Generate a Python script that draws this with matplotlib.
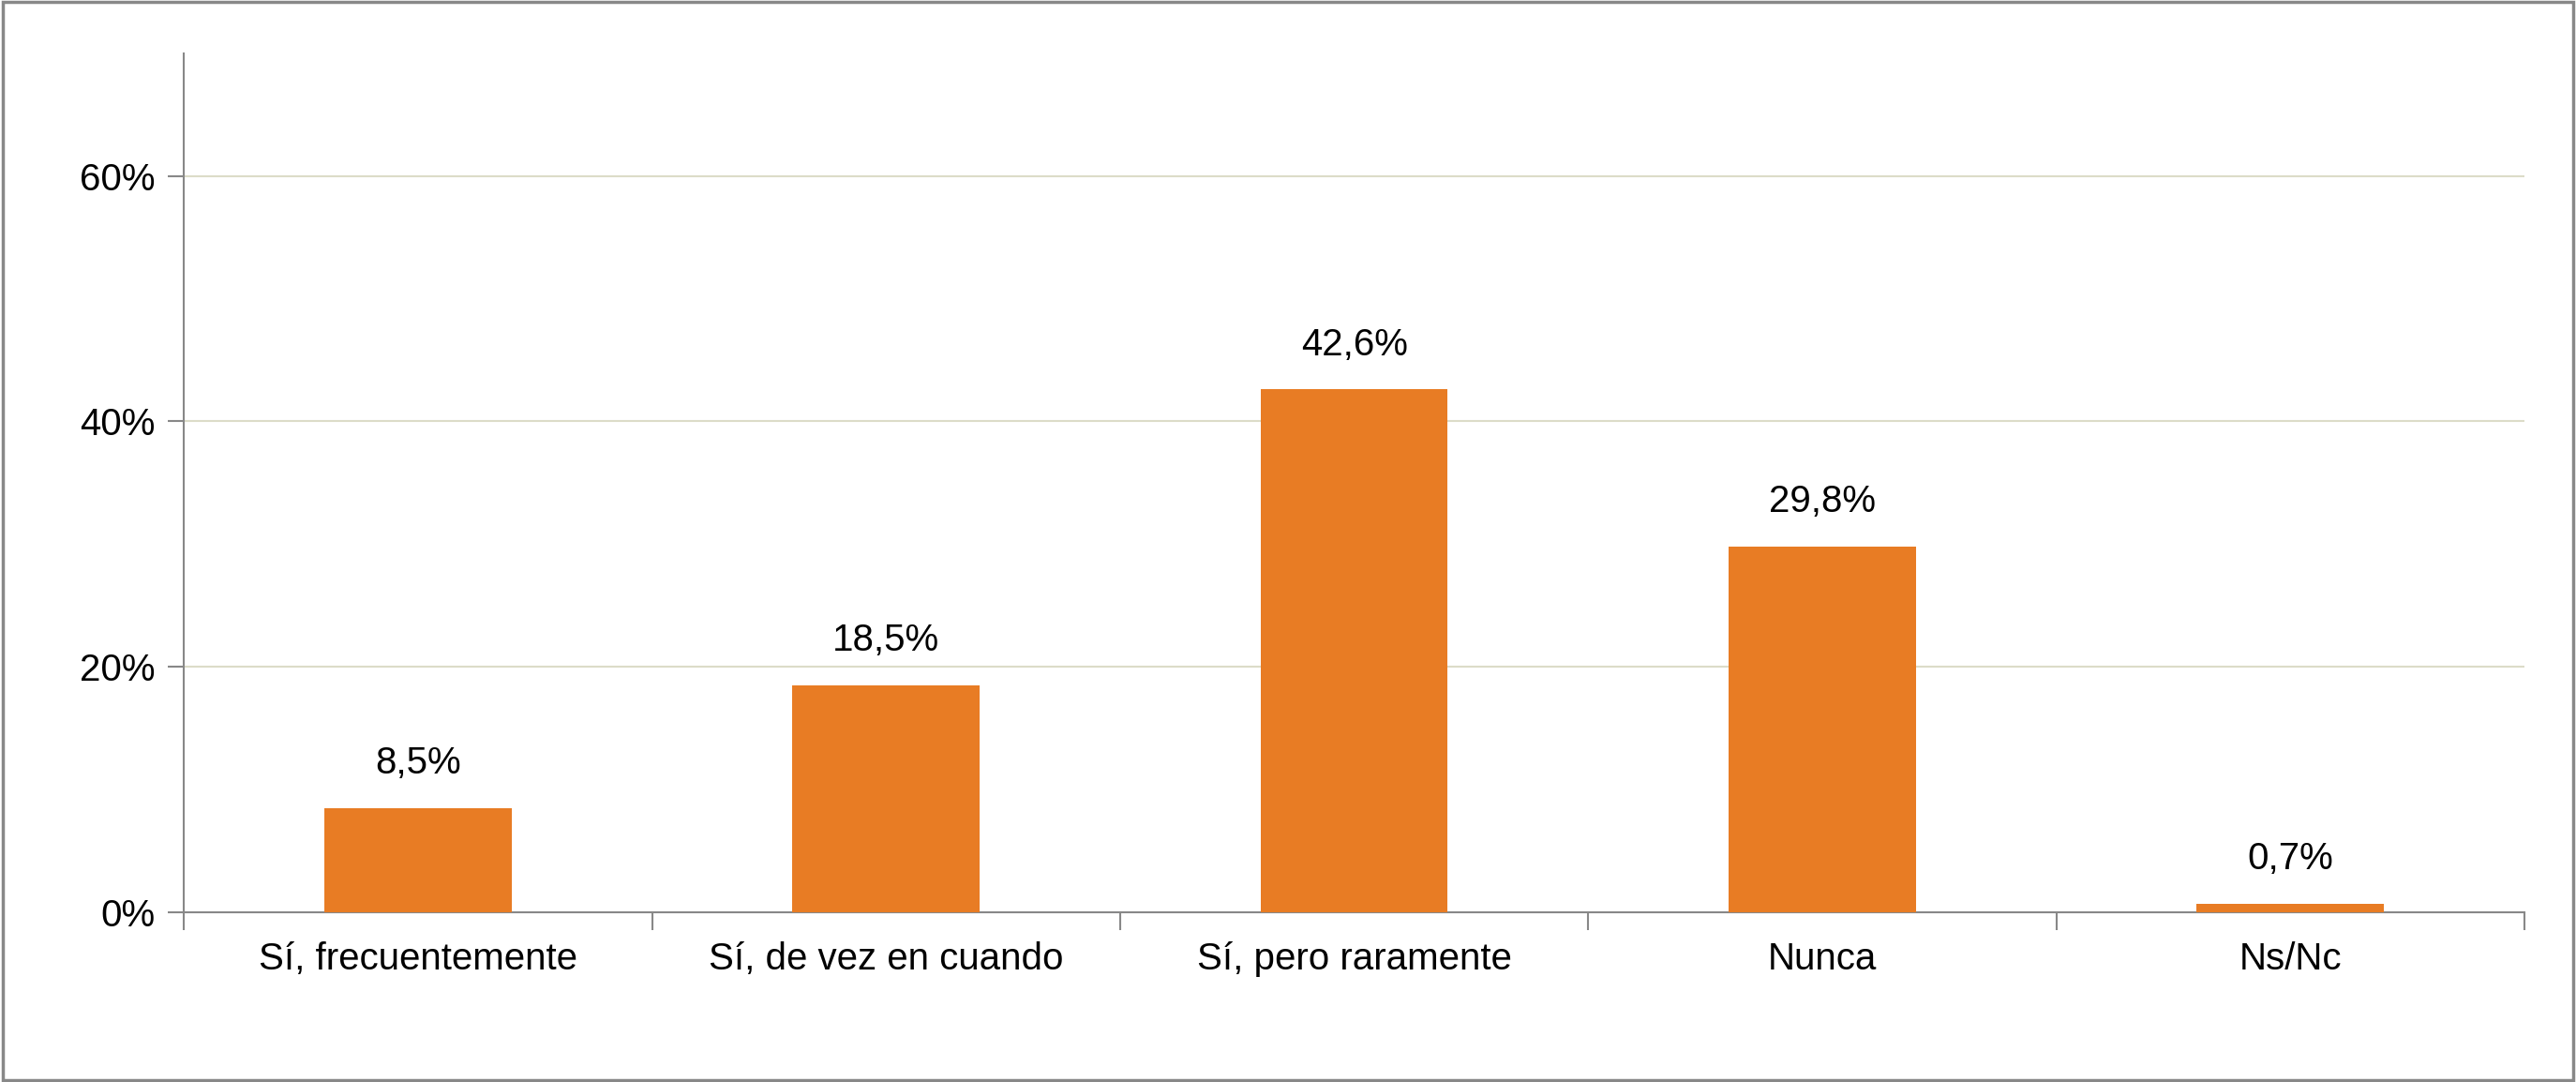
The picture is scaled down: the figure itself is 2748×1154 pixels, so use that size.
import matplotlib
matplotlib.use("Agg")
import matplotlib.pyplot as plt
from matplotlib.patches import Rectangle

categories = ["Sí, frecuentemente", "Sí, de vez en cuando", "Sí, pero raramente", "Nunca", "Ns/Nc"]
values = [8.5, 18.5, 42.6, 29.8, 0.7]
yticks = [0, 20, 40, 60]

plt.rcParams["font.family"] = "Liberation Sans"
fig = plt.figure(figsize=(27.48, 11.54), dpi=100)
ax = fig.add_axes([0.0714, 0.1565, 0.9086, 0.7945])
x = list(range(len(categories)))
ax.bar(x, values, width=0.4, color="#E87C24", zorder=3)
for xi, v in zip(x, values):
    ax.text(xi, v + 2.2, f"{v:.1f}%".replace(".", ","), ha="center", va="bottom", fontsize=29)
ax.set_xlim(-0.5, len(categories) - 0.5)
ax.set_ylim(0, 70)
ax.set_yticks(yticks)
ax.set_yticklabels([f"{t}%" for t in yticks], fontsize=29)
ax.yaxis.grid(True, color="#DCDCC8", linewidth=1.5, zorder=0)
ax.set_xticks(x)
ax.set_xticklabels(categories, fontsize=29)
ax.tick_params(axis="x", length=0, pad=22)
ax.set_xticks([i + 0.5 for i in range(-1, len(categories))], minor=True)
ax.tick_params(axis="x", which="minor", length=14, color="#888888", width=1.5)
ax.tick_params(axis="y", length=12, color="#888888", width=1.5, pad=10)
for s in ["top", "right"]:
    ax.spines[s].set_visible(False)
for s in ["left", "bottom"]:
    ax.spines[s].set_color("#888888")
    ax.spines[s].set_linewidth(1.5)
fig.patches.append(Rectangle((0.001, 0.002), 0.998, 0.996, transform=fig.transFigure,
                             fill=False, edgecolor="#888888", linewidth=2.5))
fig.savefig("out.png", dpi=100)
